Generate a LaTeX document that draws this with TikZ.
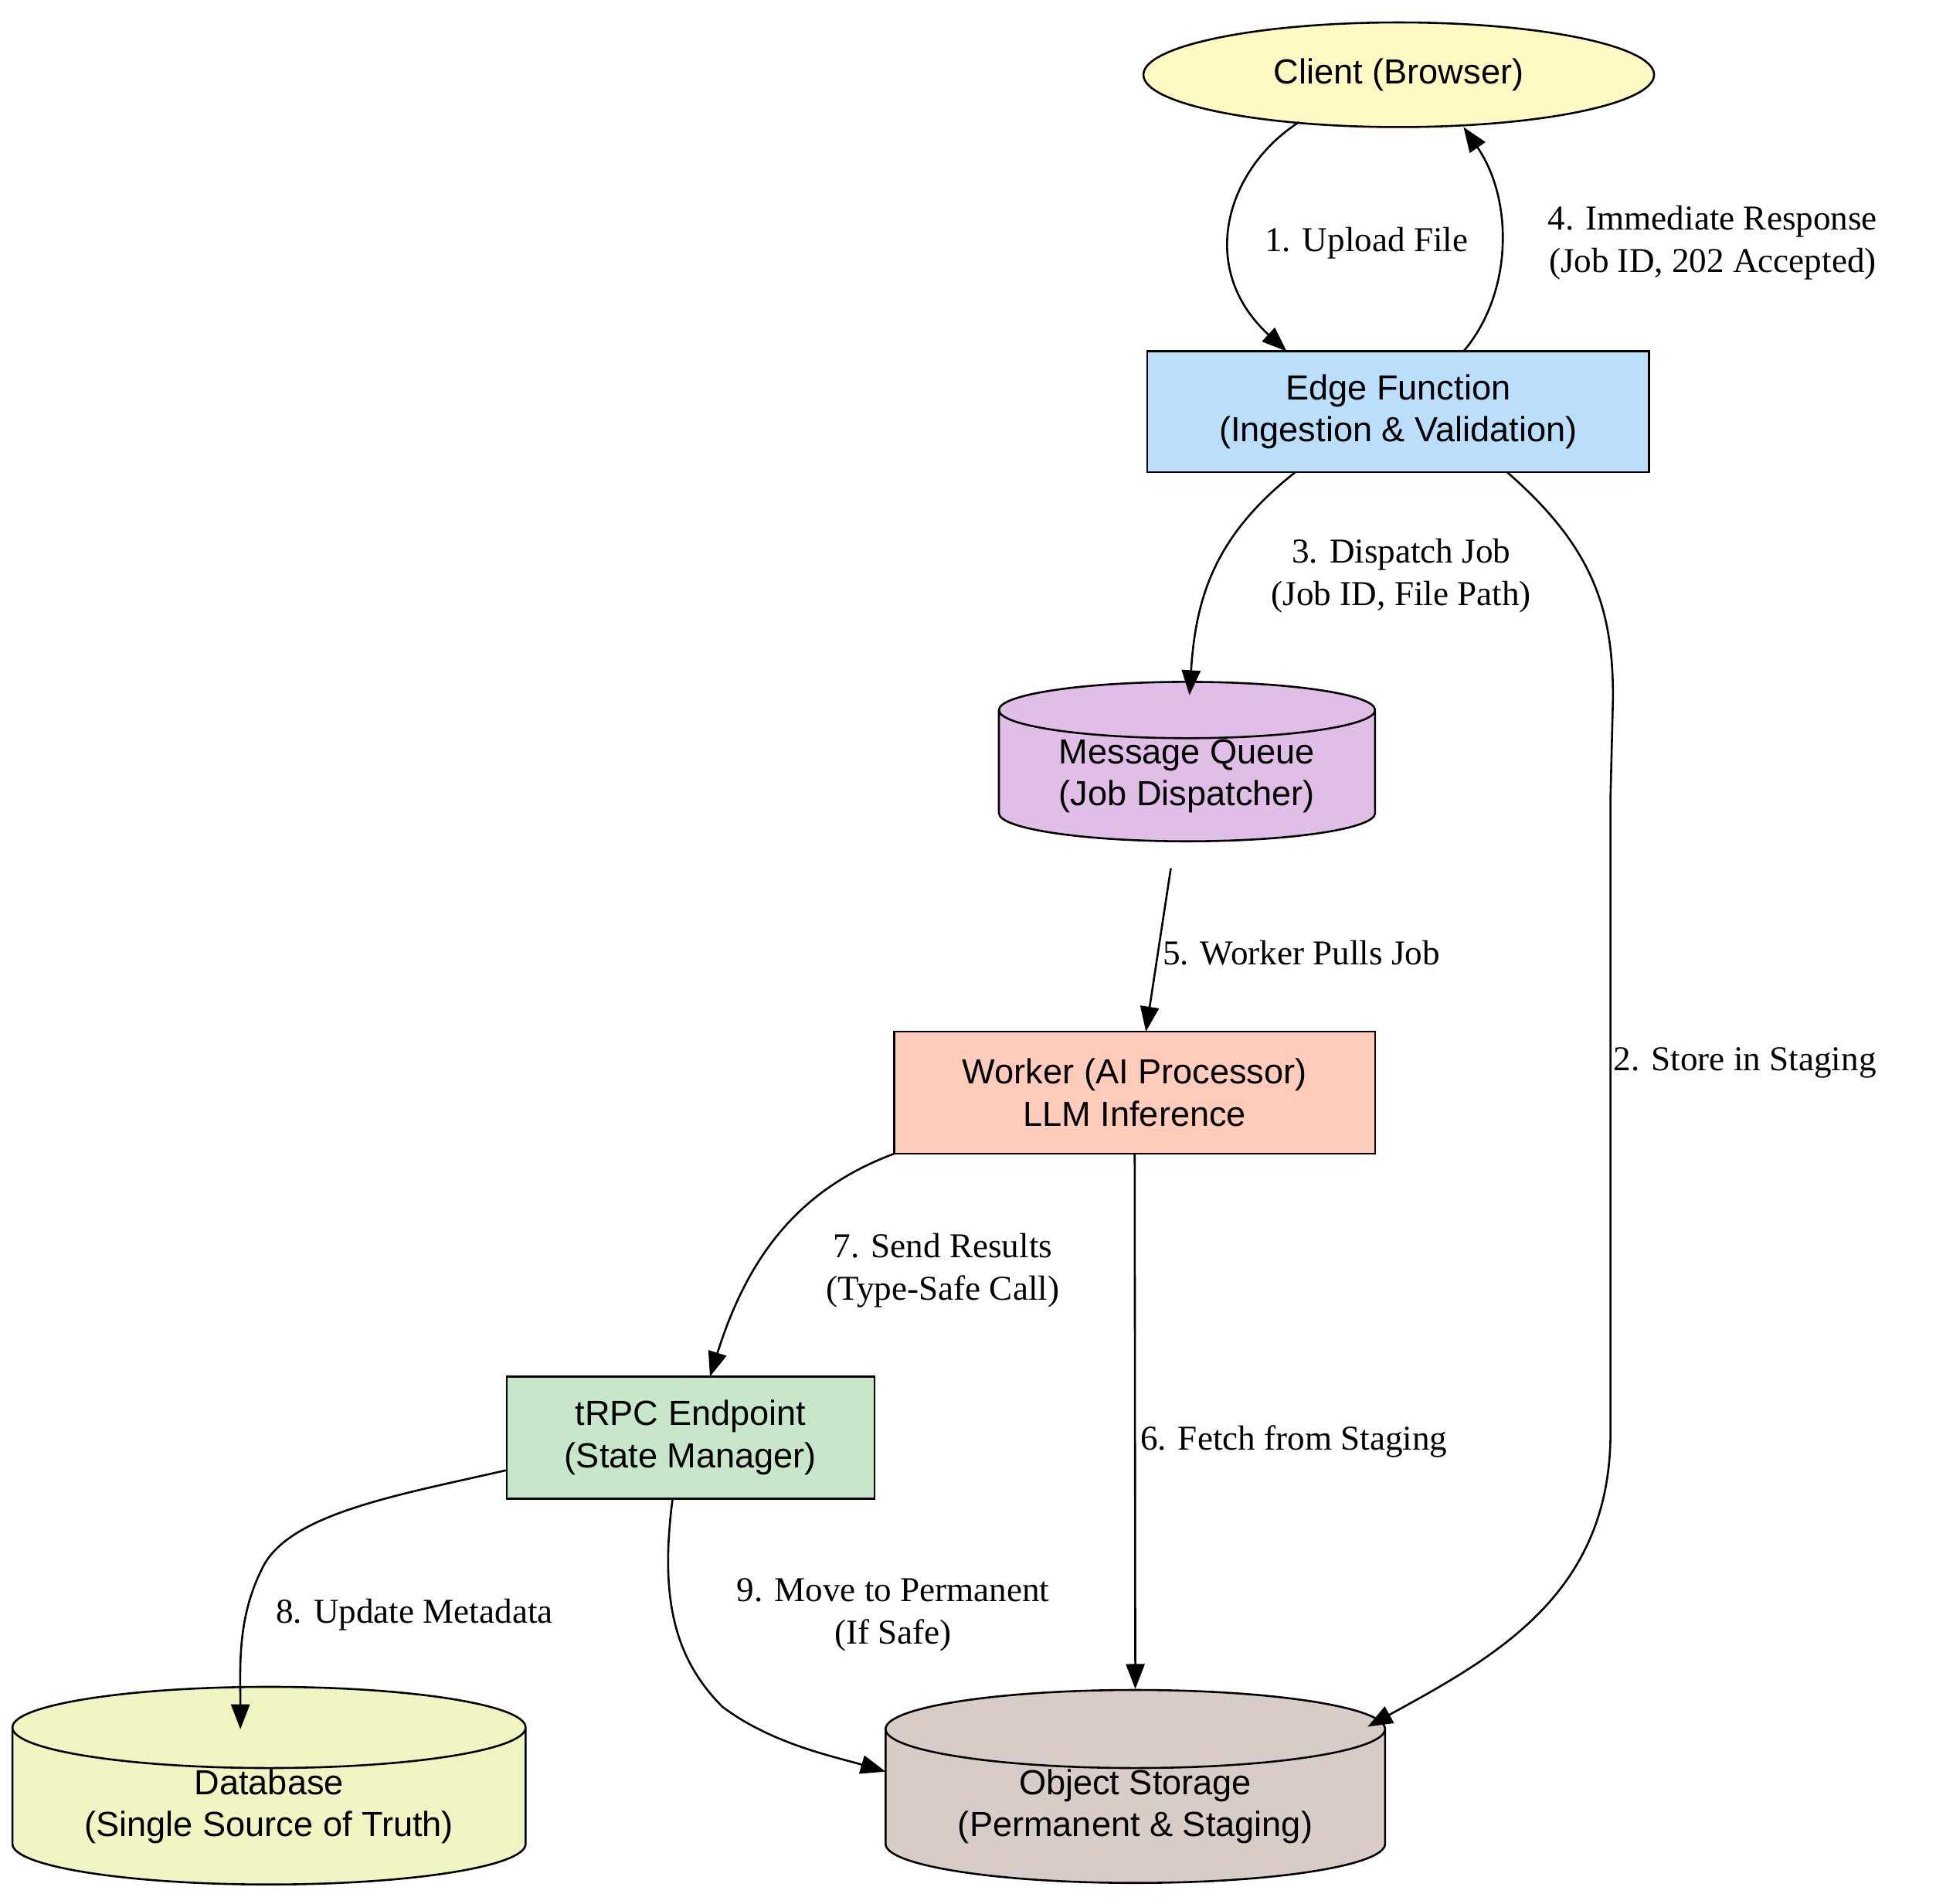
\documentclass[tikz,border=0pt]{standalone}
\usepackage{fontspec}
\setmainfont{Liberation Serif}
\newfontfamily\nodefont{Liberation Sans}
\usetikzlibrary{shapes.geometric,arrows.meta}
\begin{document}
\begin{tikzpicture}[x=1pt,y=-1pt,
  box/.style={draw,line width=1.6pt,align=center,inner sep=0pt,font=\nodefont\fontsize{28}{34}\selectfont},
  cyl/.style={box,cylinder,shape border rotate=90,aspect=0.22},
  lab/.style={align=center,font=\fontsize{28}{34}\selectfont},
  arr/.style={line width=1.6pt,-{Triangle[length=20pt,width=15pt]}}]
\useasboundingbox[fill=white] (0,0) rectangle (1568,1528);
\definecolor{cy}{HTML}{FFF9C4}\definecolor{cb}{HTML}{BBDEFB}\definecolor{cp}{HTML}{E1BEE7}
\definecolor{co}{HTML}{FFCCBC}\definecolor{cg}{HTML}{C8E6C9}\definecolor{cl}{HTML}{F0F4C3}\definecolor{cbr}{HTML}{D7CCC8}
\node[box,ellipse,fill=cy,minimum width=410,minimum height=84] (client) at (1123,60) {Client (Browser)};
\node[box,fill=cb,minimum width=403,minimum height=97] (edge) at (1122.5,330.5) {Edge Function\\(Ingestion \& Validation)};
\node[cyl,fill=cp,minimum width=302,minimum height=126] (mq) at (953,623) {Message Queue\\(Job Dispatcher)};
\node[box,fill=co,minimum width=386,minimum height=98] (worker) at (911,877) {Worker (AI Processor)\\LLM Inference};
\node[box,fill=cg,minimum width=295,minimum height=98] (trpc) at (554.5,1154) {tRPC Endpoint\\(State Manager)};
\node[cyl,fill=cl,minimum width=412,minimum height=126] (db) at (216,1450) {Database\\(Single Source of Truth)};
\node[cyl,fill=cbr,minimum width=401,minimum height=126] (os) at (911.5,1450) {Object Storage\\(Permanent \& Staging)};
\coordinate (c1) at (1043,98); \coordinate (e1) at (1033,282);
\draw[arr] (c1) .. controls (985,135) and (960,215) .. (e1);
\node[lab] at (1097,195) {1. Upload File};
\coordinate (e4) at (1175,282); \coordinate (c4) at (1175,102);
\draw[arr] (e4) .. controls (1215,235) and (1215,160) .. (c4);
\node[lab] at (1375,195) {4. Immediate Response\\(Job ID, 202 Accepted)};
\coordinate (e3) at (1040,379); \coordinate (m3) at (955,558);
\draw[arr] (e3) .. controls (975,430) and (960,480) .. (m3);
\node[lab] at (1125,462) {3. Dispatch Job\\(Job ID, File Path)};
\coordinate (e2) at (1210,379); \coordinate (o2) at (1098,1386);
\draw[arr] (e2) .. controls (1280,440) and (1295,490) .. (1295,560) -- (1293,640) -- (1293,1150) .. controls (1293,1280) and (1200,1330) .. (o2);
\node[lab,anchor=west] at (1292,853) {2. Store in Staging};
\coordinate (m5) at (940,697); \coordinate (w5) at (920,828);
\draw[arr] (m5) -- (w5);
\node[lab,anchor=west] at (930,765) {5. Worker Pulls Job};
\draw[arr] (worker.south) -- (os.north);
\node[lab,anchor=west] at (912,1157) {6. Fetch from Staging};
\coordinate (w7) at (718,926); \coordinate (t7) at (570,1105);
\draw[arr] (w7) .. controls (640,955) and (600,1010) .. (t7);
\node[lab] at (757,1020) {7. Send Results\\(Type-Safe Call)};
\coordinate (t8) at (407,1180); \coordinate (d8) at (193,1388);
\draw[arr] (t8) .. controls (320,1200) and (230,1215) .. (210,1260) .. controls (190,1300) and (193,1340) .. (d8);
\node[lab,anchor=west] at (218,1296) {8. Update Metadata};
\coordinate (t9) at (540,1203); \coordinate (o9) at (711,1422);
\draw[arr] (t9) .. controls (530,1280) and (540,1330) .. (580,1370) .. controls (620,1400) and (670,1410) .. (o9);
\node[lab] at (717,1296) {9. Move to Permanent\\(If Safe)};
\end{tikzpicture}
\end{document}
